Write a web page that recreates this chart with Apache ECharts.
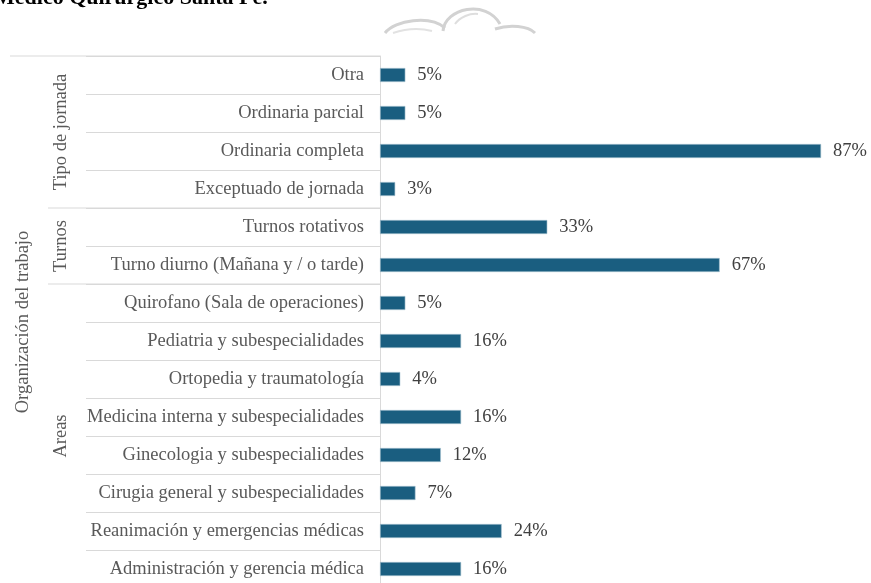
<!DOCTYPE html>
<html>
<head>
<meta charset="utf-8">
<script src="https://cdn.jsdelivr.net/npm/echarts@6/dist/echarts.min.js"></script>
<style>
  html, body { margin: 0; padding: 0; background: #fff; }
  #chart { width: 871px; height: 583px; }
</style>
</head>
<body>
<div id="chart"></div>
<script>
// data, top to bottom
const categories = [
  'Otra',
  'Ordinaria parcial',
  'Ordinaria completa',
  'Exceptuado de jornada',
  'Turnos rotativos',
  'Turno diurno (Mañana y / o tarde)',
  'Quirofano (Sala de operaciones)',
  'Pediatria y subespecialidades',
  'Ortopedia y traumatología',
  'Medicina interna y subespecialidades',
  'Ginecologia y subespecialidades',
  'Cirugia general y subespecialidades',
  'Reanimación y emergencias médicas',
  'Administración y gerencia médica'
];
const values = [5, 5, 87, 3, 33, 67, 5, 16, 4, 16, 12, 7, 24, 16];
const groupNames = ['Tipo de jornada', 'Turnos', 'Areas'];
const groupSizes = [4, 2, 8];
const outerName = 'Organización del trabajo';
const titleText = 'Médico Quirúrgico Santa Fe.';

const FONT = '"Liberation Serif", "Times New Roman", serif';
const LINE = '#d9d9d9';
const TEXT = '#595959';

const chart = echarts.init(document.getElementById('chart'));

chart.setOption({
  animation: false,
  grid: { left: 380, top: 56, width: 507, height: 532, containLabel: false, outerBoundsMode: 'none' },
  xAxis: { type: 'value', min: 0, max: 100, show: false },
  yAxis: {
    type: 'category',
    data: categories,
    inverse: true,
    axisLine: { show: true, lineStyle: { color: LINE, width: 1 } },
    axisTick: { show: true, length: 294, lineStyle: { color: LINE, width: 1 } },
    axisLabel: { margin: 16, color: TEXT, fontSize: 18.5, fontFamily: FONT },
    splitLine: { show: false }
  },
  series: [{
    type: 'bar',
    data: values,
    barWidth: 14,
    itemStyle: { color: '#1a5e80', borderColor: '#a9c4d2', borderWidth: 0.6 },
    label: {
      show: true,
      position: 'right',
      distance: 12,
      formatter: '{c}%',
      color: '#404040',
      fontSize: 18.5,
      fontFamily: FONT
    }
  }]
});

// group brackets and labels, placed from the category scale
function drawGroups() {
  const yc = i => chart.convertToPixel({ yAxisIndex: 0 }, categories[i]);
  const band = yc(1) - yc(0);
  const edge = i => (i < categories.length ? yc(i) - band / 2 : yc(categories.length - 1) + band / 2);
  const axisX = chart.convertToPixel({ xAxisIndex: 0 }, 0);

  const els = [];
  els.push({ type: 'line', shape: { x1: 10, y1: edge(0), x2: axisX, y2: edge(0) },
    style: { stroke: LINE, lineWidth: 1 } });

  let start = 0;
  groupSizes.forEach((n, g) => {
    const end = start + n;
    if (g > 0) {
      els.push({ type: 'line', shape: { x1: 48, y1: edge(start), x2: axisX, y2: edge(start) },
        style: { stroke: LINE, lineWidth: 1 } });
    }
    els.push({
      type: 'text', x: 61, y: (edge(start) + edge(end)) / 2, rotation: Math.PI / 2,
      style: { text: groupNames[g], fill: TEXT, font: '18.5px ' + FONT, align: 'center', verticalAlign: 'middle' }
    });
    start = end;
  });

  els.push({
    type: 'text', x: 23, y: (edge(0) + edge(categories.length)) / 2, rotation: Math.PI / 2,
    style: { text: outerName, fill: TEXT, font: '18.5px ' + FONT, align: 'center', verticalAlign: 'middle' }
  });

  // cut-off heading of the page above the chart
  els.push({
    type: 'text', x: -6, y: 9,
    style: { text: titleText, fill: '#000', font: 'bold 22px ' + FONT, align: 'left', verticalAlign: 'bottom' }
  });

  // faint watermark sketch
  const sketch = { stroke: '#d2d2d2', lineWidth: 3, fill: null };
  els.push({ type: 'bezierCurve', style: sketch,
    shape: { x1: 385, y1: 33, cpx1: 395, cpy1: 20, cpx2: 430, cpy2: 15, x2: 445, y2: 28 } });
  els.push({ type: 'bezierCurve', style: sketch,
    shape: { x1: 443, y1: 31, cpx1: 445, cpy1: 8, cpx2: 486, cpy2: -1, x2: 500, y2: 24 } });
  els.push({ type: 'bezierCurve', style: sketch,
    shape: { x1: 495, y1: 29, cpx1: 510, cpy1: 24, cpx2: 528, cpy2: 26, x2: 535, y2: 33 } });
  els.push({ type: 'bezierCurve', style: { stroke: '#dedede', lineWidth: 2, fill: null },
    shape: { x1: 455, y1: 24, cpx1: 460, cpy1: 17, cpx2: 470, cpy2: 13, x2: 478, y2: 14 } });
  els.push({ type: 'bezierCurve', style: { stroke: '#e2e2e2', lineWidth: 2, fill: null },
    shape: { x1: 393, y1: 33, cpx1: 405, cpy1: 29, cpx2: 420, cpy2: 28, x2: 432, y2: 31 } });

  chart.setOption({ graphic: els });
}
drawGroups();
</script>
</body>
</html>
